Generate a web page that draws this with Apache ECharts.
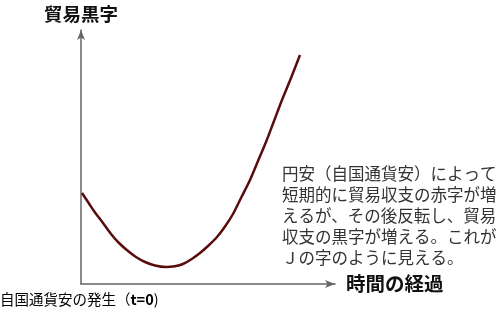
<!DOCTYPE html>
<html>
<head>
<meta charset="utf-8">
<script src="https://cdn.jsdelivr.net/npm/echarts@6/dist/echarts.min.js"></script>
<style>html,body{margin:0;padding:0;background:#fff;}#c{width:500px;height:316px;}</style>
</head>
<body>
<div id="c"></div>
<script>
// Curve samples (time index, trade balance)
const timeValues = [1, 8, 14, 22, 30, 38, 47, 55, 64, 74, 85, 94, 102, 110, 119, 127, 136, 144, 152, 160, 169, 177, 185, 193, 201, 210, 219];
const balanceValues = [91, 80.5, 71.5, 61, 50, 41, 33, 27, 22, 18.5, 17, 17.8, 20, 24.5, 31, 38, 47, 57.5, 70, 86, 104, 123, 142, 163, 184, 206, 229];
const yAxisTitle = '貿易黒字';
const xAxisTitle = '時間の経過';
const originLabel = '自国通貨安の発生（';
const originTime = 't=0';
const noteLines = [
  '円安（自国通貨安）によって',
  '短期的に貿易収支の赤字が増',
  'えるが、その後反転し、貿易',
  '収支の黒字が増える。これが',
  'Ｊの字のように見える。'
];

const FONT = '"Noto Sans CJK JP", "Noto Sans", sans-serif';
const chart = echarts.init(document.getElementById('c'), null, {renderer: 'canvas'});
const axisLine = {
  show: true,
  symbol: ['none', 'arrow'],
  symbolSize: [6, 10],
  lineStyle: {color: '#666', width: 1.5}
};
chart.setOption({
  backgroundColor: '#fff',
  animation: false,
  grid: {left: 81, right: 165, top: 30, bottom: 32},
  xAxis: {
    type: 'value', min: 0, max: 254,
    axisLine: axisLine, axisTick: {show: false}, axisLabel: {show: false}, splitLine: {show: false},
    name: xAxisTitle, nameLocation: 'end', nameGap: 11,
    nameTextStyle: {fontFamily: FONT, fontSize: 19.5, fontWeight: 'bold', color: '#111', verticalAlign: 'middle', align: 'left', padding: [3, 0, 0, 0]}
  },
  yAxis: {
    type: 'value', min: 0, max: 254,
    axisLine: axisLine, axisTick: {show: false}, axisLabel: {show: false}, splitLine: {show: false},
    name: yAxisTitle, nameLocation: 'end', nameGap: 7,
    nameTextStyle: {fontFamily: FONT, fontSize: 18.5, fontWeight: 'bold', color: '#111', align: 'center'}
  },
  series: [{
    type: 'line',
    data: timeValues.map((t, i) => [t, balanceValues[i]]),
    smooth: 0.3,
    symbol: 'none',
    lineStyle: {color: '#5a0c0c', width: 2.5}
  }],
  graphic: [
    {
      type: 'text', left: 0, top: 292,
      style: {
        text: '{a|' + originLabel + '}{b|' + originTime + '}{a|)}',
        rich: {
          a: {fontFamily: FONT, fontSize: 14.5, color: '#222'},
          b: {fontFamily: FONT, fontSize: 14.5, fontWeight: 'bold', color: '#222'}
        }
      }
    },
    {
      type: 'text', left: 282, top: 163,
      style: {
        text: noteLines.join('\n'),
        fontFamily: FONT, fontSize: 16.5, lineHeight: 21, fill: '#333'
      }
    }
  ]
});
</script>
</body>
</html>
